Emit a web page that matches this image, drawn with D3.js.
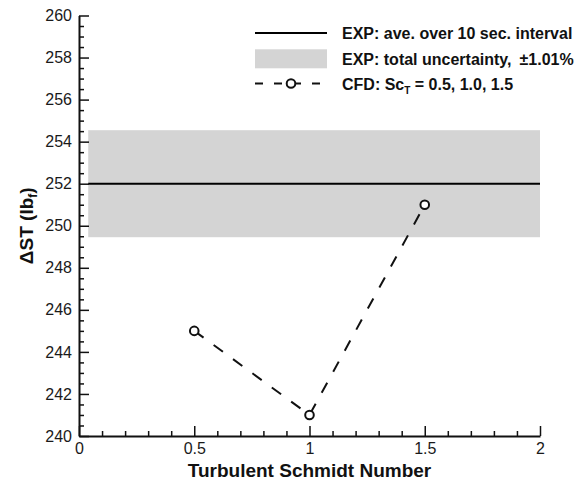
<!DOCTYPE html>
<html>
<head>
<meta charset="utf-8">
<script src="https://cdn.jsdelivr.net/npm/d3@7"></script>
<style>
  html, body { margin: 0; padding: 0; background: #fff; }
  svg { display: block; font-family: "Liberation Sans", Arial, Helvetica, sans-serif; }
</style>
</head>
<body>
<svg id="chart" width="579" height="489"></svg>
<script>
// CFD results: thrust difference for each turbulent Schmidt number
const schmidtNumbers = [0.5, 1.0, 1.5];
const deltaST = [245, 241, 251];

// Experimental reference: mean over 10 s interval and its total uncertainty (%)
const expMean = 252;
const expUncertaintyPct = 1.01;
const expSpan = [0.04, 2];

// Axis ticks
const xTickValues = [0, 0.5, 1, 1.5, 2];
const xMinorValues = [0.1, 0.2, 0.3, 0.4, 0.6, 0.7, 0.8, 0.9, 1.1, 1.2, 1.3, 1.4, 1.6, 1.7, 1.8, 1.9];
const yTickValues = [240, 242, 244, 246, 248, 250, 252, 254, 256, 258, 260];
const yMinorValues = [240.5, 241, 241.5, 242.5, 243, 243.5, 244.5, 245, 245.5, 246.5, 247, 247.5,
                      248.5, 249, 249.5, 250.5, 251, 251.5, 252.5, 253, 253.5, 254.5, 255, 255.5,
                      256.5, 257, 257.5, 258.5, 259, 259.5];

const svg = d3.select("#chart");

const x = d3.scaleLinear().domain([0, 2]).range([79, 540]);
const y = d3.scaleLinear().domain([240, 260]).range([436, 15.5]);

// Uncertainty band
const bandHi = expMean * (1 + expUncertaintyPct / 100);
const bandLo = expMean * (1 - expUncertaintyPct / 100);
svg.append("rect")
  .attr("x", x(expSpan[0]))
  .attr("y", y(bandHi))
  .attr("width", x(expSpan[1]) - x(expSpan[0]))
  .attr("height", y(bandLo) - y(bandHi))
  .attr("fill", "#d4d4d4");

// Experimental mean line
svg.append("line")
  .attr("x1", x(expSpan[0])).attr("x2", x(expSpan[1]))
  .attr("y1", y(expMean)).attr("y2", y(expMean))
  .attr("stroke", "#000").attr("stroke-width", 2);

// Axes (ticks point inward)
const gx = svg.append("g").attr("transform", `translate(0,${y(240)})`);
gx.call(d3.axisBottom(x).tickValues(xMinorValues).tickSize(-5).tickFormat(""))
  .call(g => g.select(".domain").remove());
const gx2 = svg.append("g").attr("transform", `translate(0,${y(240)})`);
gx2.call(d3.axisBottom(x).tickValues(xTickValues).tickSizeInner(-10).tickSizeOuter(0).tickPadding(7)
  .tickFormat(d => String(d)));

const gy = svg.append("g").attr("transform", `translate(${x(0)},0)`);
gy.call(d3.axisLeft(y).tickValues(yMinorValues).tickSize(-5).tickFormat(""))
  .call(g => g.select(".domain").remove());
const gy2 = svg.append("g").attr("transform", `translate(${x(0)},0)`);
gy2.call(d3.axisLeft(y).tickValues(yTickValues).tickSizeInner(-10).tickSizeOuter(0).tickPadding(7)
  .tickFormat(d => String(d)));

svg.selectAll(".domain").attr("stroke", "#111").attr("stroke-width", 2);
svg.selectAll(".tick line").attr("stroke", "#111").attr("stroke-width", 1.5);
svg.selectAll(".tick text")
  .attr("font-size", 16).attr("fill", "#1a1a1a")
  .attr("font-family", "'Liberation Sans', Arial, Helvetica, sans-serif");

// CFD curve
const pts = schmidtNumbers.map((s, i) => [s, deltaST[i]]);
svg.append("path")
  .datum(pts)
  .attr("d", d3.line().x(d => x(d[0])).y(d => y(d[1])))
  .attr("fill", "none")
  .attr("stroke", "#111")
  .attr("stroke-width", 2)
  .attr("stroke-dasharray", "11.5,12.5");
svg.selectAll("circle.pt")
  .data(pts)
  .join("circle")
  .attr("class", "pt")
  .attr("cx", d => x(d[0])).attr("cy", d => y(d[1]))
  .attr("r", 4.3)
  .attr("fill", "#fff").attr("stroke", "#111").attr("stroke-width", 2);

// Axis titles
svg.append("text")
  .attr("x", (x(0) + x(2)) / 2).attr("y", 477)
  .attr("text-anchor", "middle")
  .attr("font-size", 19).attr("font-weight", "bold").attr("fill", "#111")
  .text("Turbulent Schmidt Number");

const yt = svg.append("text")
  .attr("transform", `translate(33,${(y(240) + y(260)) / 2}) rotate(-90)`)
  .attr("text-anchor", "middle")
  .attr("font-size", 19).attr("font-weight", "bold").attr("fill", "#111");
yt.append("tspan").text("\u0394ST (lb");
yt.append("tspan").attr("font-size", 12).attr("dy", 4).text("f");
yt.append("tspan").attr("dy", -4).text(")");

// Legend
const legX0 = 255, legX1 = 327, legText = 342;
const leg = svg.append("g");
leg.append("line")
  .attr("x1", legX0).attr("x2", legX1).attr("y1", 33).attr("y2", 33)
  .attr("stroke", "#000").attr("stroke-width", 2);
leg.append("rect")
  .attr("x", legX0).attr("y", 49.3).attr("width", legX1 - legX0).attr("height", 19)
  .attr("fill", "#d4d4d4");
leg.append("line")
  .attr("x1", legX0).attr("x2", legX1).attr("y1", 83.5).attr("y2", 83.5)
  .attr("stroke", "#111").attr("stroke-width", 2).attr("stroke-dasharray", "8,11");
leg.append("circle")
  .attr("cx", (legX0 + legX1) / 2).attr("cy", 83.5).attr("r", 4.3)
  .attr("fill", "#fff").attr("stroke", "#111").attr("stroke-width", 2);

const legendFont = t => t.attr("x", legText).attr("font-size", 16).attr("font-weight", "bold").attr("fill", "#111");
leg.append("text").call(legendFont).attr("y", 39).text("EXP: ave. over 10 sec. interval");
leg.append("text").call(legendFont).attr("y", 64.5).text("EXP: total uncertainty,\u2002\u00b11.01%");
const t3 = leg.append("text").call(legendFont).attr("y", 89.5);
t3.append("tspan").text("CFD: Sc");
t3.append("tspan").attr("font-size", 10).attr("dy", 4).text("T");
t3.append("tspan").attr("dy", -4).text(" = 0.5, 1.0, 1.5");
</script>
</body>
</html>
